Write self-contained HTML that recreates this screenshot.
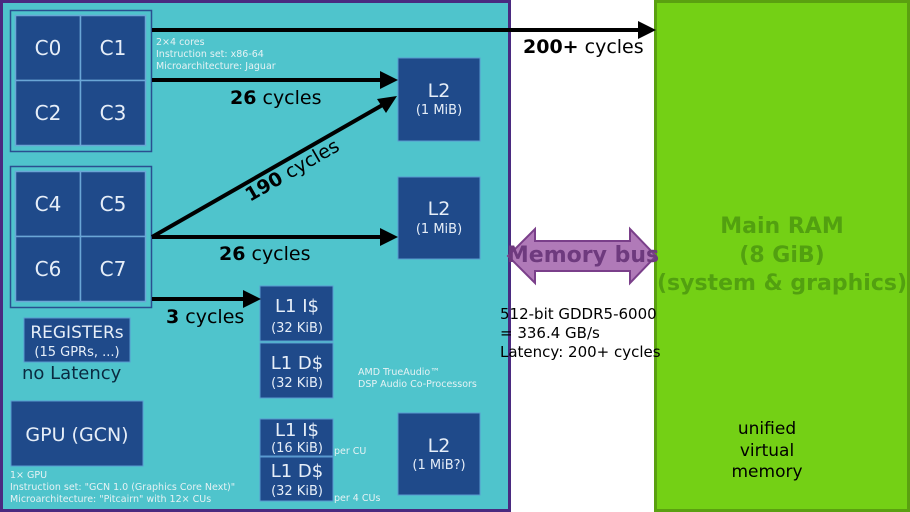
<!DOCTYPE html>
<html><head><meta charset="utf-8"><style>
html,body{margin:0;padding:0;background:#fff;}
svg{display:block;font-family:"DejaVu Sans","Liberation Sans",sans-serif;}
</style></head><body>
<svg width="910" height="512" viewBox="0 0 910 512" xmlns="http://www.w3.org/2000/svg">
<defs>
<marker id="ah" markerWidth="8" markerHeight="8" refX="7" refY="4" orient="auto" markerUnits="userSpaceOnUse"><path d="M0,0 L0,0 L8,4 L0,8 Z" fill="#000"/></marker>
</defs>
<!-- cyan panel -->
<rect x="1.5" y="1.5" width="508" height="509" fill="#4fc4cc" stroke="#4a2a80" stroke-width="3"/>
<!-- green panel -->
<rect x="655.5" y="1.5" width="253" height="509" fill="#74d015" stroke="#5aa010" stroke-width="3"/>

<!-- core groups -->
<g stroke="#2a4f90" stroke-width="1.5" fill="none">
<rect x="10.5" y="10.5" width="141" height="141"/>
<rect x="10.5" y="166.5" width="141" height="141"/>
</g>
<g fill="#1f4a8a" stroke="#6aa6d6" stroke-width="1.5">
<rect x="15.5" y="15.5" width="65" height="65"/><rect x="80.5" y="15.5" width="65" height="65"/>
<rect x="15.5" y="80.5" width="65" height="65"/><rect x="80.5" y="80.5" width="65" height="65"/>
<rect x="15.5" y="171.5" width="65" height="65"/><rect x="80.5" y="171.5" width="65" height="65"/>
<rect x="15.5" y="236.5" width="65" height="65"/><rect x="80.5" y="236.5" width="65" height="65"/>
</g>
<g fill="#e6eef8" font-size="20" text-anchor="middle">
<text x="48" y="55">C0</text><text x="113" y="55">C1</text>
<text x="48" y="120">C2</text><text x="113" y="120">C3</text>
<text x="48" y="211">C4</text><text x="113" y="211">C5</text>
<text x="48" y="276">C6</text><text x="113" y="276">C7</text>
</g>
<g fill="#e6f2f4" font-size="9.5">
<text x="156" y="45">2×4 cores</text>
<text x="156" y="57">Instruction set: x86-64</text>
<text x="156" y="69">Microarchitecture: Jaguar</text>
</g>

<!-- boxes -->
<g fill="#1f4a8a" stroke="#5a9ad0" stroke-width="1">
<rect x="398" y="58" width="82" height="83"/>
<rect x="398" y="177" width="82" height="82"/>
<rect x="398" y="413" width="82" height="82"/>
<rect x="260" y="286" width="73" height="55"/>
<rect x="260" y="343" width="73" height="55"/>
<rect x="260" y="419" width="73" height="37"/>
<rect x="260" y="457" width="73" height="44"/>
<rect x="24" y="318" width="106" height="44"/>
<rect x="11" y="401" width="132" height="65"/>
</g>
<g fill="#e6eef8" text-anchor="middle">
<text x="439" y="97" font-size="19">L2</text><text x="439" y="114" font-size="13">(1 MiB)</text>
<text x="439" y="215" font-size="19">L2</text><text x="439" y="233" font-size="13">(1 MiB)</text>
<text x="439" y="452" font-size="19">L2</text><text x="439" y="469" font-size="13">(1 MiB?)</text>
<text x="297" y="312" font-size="18">L1 I$</text><text x="297" y="332" font-size="13">(32 KiB)</text>
<text x="297" y="369" font-size="18">L1 D$</text><text x="297" y="387" font-size="13">(32 KiB)</text>
<text x="297" y="436" font-size="18">L1 I$</text><text x="297" y="452" font-size="13">(16 KiB)</text>
<text x="297" y="477" font-size="18">L1 D$</text><text x="297" y="495" font-size="13">(32 KiB)</text>
<text x="77" y="338" font-size="17">REGISTERs</text><text x="77" y="356" font-size="13">(15 GPRs, ...)</text>
<text x="77" y="441" font-size="19">GPU (GCN)</text>
</g>
<text x="22" y="379" font-size="18" fill="#0a2a40">no Latency</text>
<g fill="#e6f2f4" font-size="9.5">
<text x="358" y="375">AMD TrueAudio™</text>
<text x="358" y="387">DSP Audio Co-Processors</text>
<text x="334" y="454">per CU</text>
<text x="334" y="501">per 4 CUs</text>
<text x="10" y="478">1× GPU</text>
<text x="10" y="490">Instruction set: "GCN 1.0 (Graphics Core Next)"</text>
<text x="10" y="502">Microarchitecture: "Pitcairn" with 12× CUs</text>
</g>

<!-- arrows -->
<g stroke="#000" stroke-width="4" fill="none">
<line x1="152" y1="30" x2="642" y2="30"/>
<line x1="152" y1="80" x2="384" y2="80"/>
<line x1="152" y1="237" x2="384" y2="237"/>
<line x1="152" y1="237" x2="386" y2="103"/>
<line x1="152" y1="299" x2="247" y2="299"/>
</g>
<g fill="#000">
<path d="M638,21 L656,30 L638,39 Z"/>
<path d="M380,71 L398,80 L380,89 Z"/>
<path d="M380,228 L398,237 L380,246 Z"/>
<path d="M243,290 L261,299 L243,308 Z"/>
<path d="M397,96 L377,99 L386,113 Z"/>
</g>
<g font-size="19" fill="#000">
<text x="523" y="53"><tspan font-weight="bold">200+</tspan> cycles</text>
<text x="230" y="104"><tspan font-weight="bold">26</tspan> cycles</text>
<text x="219" y="260"><tspan font-weight="bold">26</tspan> cycles</text>
<text x="166" y="323"><tspan font-weight="bold">3</tspan> cycles</text>
<text x="250" y="202" transform="rotate(-30 250 202)"><tspan font-weight="bold">190</tspan> cycles</text>
</g>

<!-- memory bus -->
<path d="M508,256 L535,229 L535,241 L630,241 L630,229 L656,256 L630,283 L630,271 L535,271 L535,283 Z" fill="#b07ab8" stroke="#7a3f8a" stroke-width="2"/>
<text x="583" y="262" font-size="22" font-weight="bold" fill="#6e3a7e" text-anchor="middle">Memory bus</text>
<g font-size="15" fill="#000">
<text x="500" y="319">512-bit GDDR5-6000</text>
<text x="500" y="338">= 336.4 GB/s</text>
<text x="500" y="357">Latency: 200+ cycles</text>
</g>
<g font-size="22" font-weight="bold" fill="#52a010" text-anchor="middle">
<text x="782" y="233">Main RAM</text>
<text x="782" y="262">(8 GiB)</text>
<text x="782" y="290">(system &amp; graphics)</text>
</g>
<g font-size="17" fill="#000" text-anchor="middle">
<text x="767" y="434">unified</text>
<text x="767" y="456">virtual</text>
<text x="767" y="477">memory</text>
</g>
</svg>
</body></html>
